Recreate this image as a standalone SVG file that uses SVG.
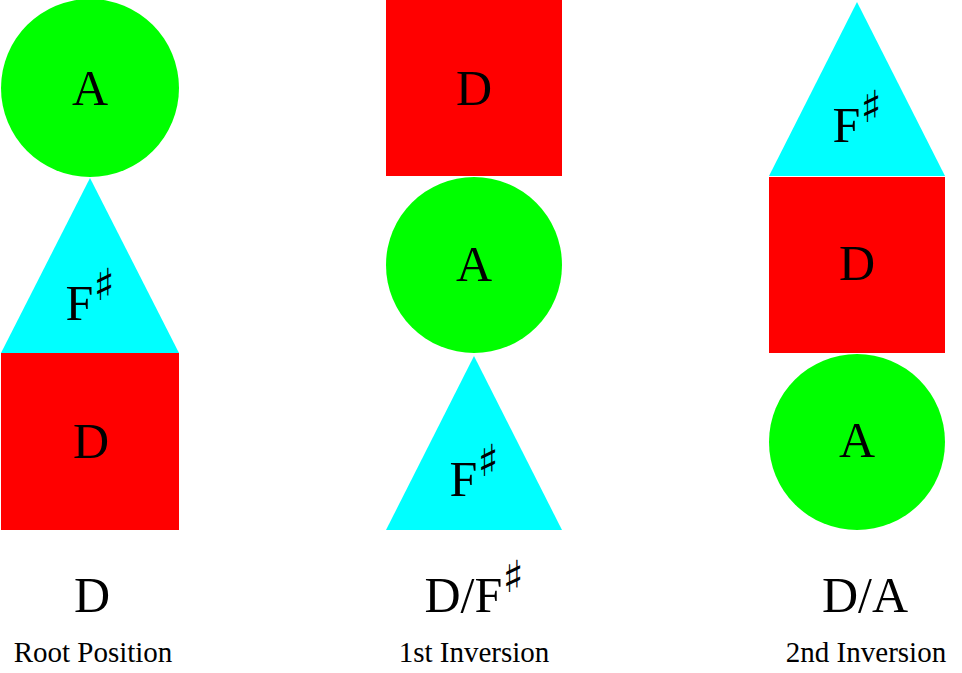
<svg xmlns="http://www.w3.org/2000/svg" width="962" height="673" viewBox="0 0 962 673">
<style>
.c{fill:#00ff00}.t{fill:#00ffff}.s{fill:#ff0000}
text{font-family:"Liberation Serif",serif;fill:#000;text-anchor:middle}
.n{font-size:50px}.l{font-size:29px}
.sh{font-family:"DejaVu Sans",sans-serif;font-size:44px}
</style>
<rect width="962" height="673" fill="#fff"/>
<g id="root">
<g id="root-A"><circle class="c" cx="90" cy="88" r="89"/><text class="n" x="90" y="105">A</text></g>
<g id="root-Fs"><polygon class="t" points="90,178 1,353 179,353"/><text class="n" x="90" y="320">F<tspan class="sh" dy="-20">♯</tspan></text></g>
<g id="root-D"><rect class="s" x="1" y="353" width="178" height="177"/><text class="n" x="91" y="458">D</text></g>
<text class="n" x="92" y="612">D</text>
<text class="l" x="93" y="662">Root Position</text>
</g>
<g id="first">
<g id="first-D"><rect class="s" x="386" y="0" width="176" height="176"/><text class="n" x="474" y="105">D</text></g>
<g id="first-A"><circle class="c" cx="474" cy="265" r="88"/><text class="n" x="474" y="281">A</text></g>
<g id="first-Fs"><polygon class="t" points="474,356 386,530 562,530"/><text class="n" x="474" y="496">F<tspan class="sh" dy="-20">♯</tspan></text></g>
<text class="n" x="474" y="612">D/F<tspan class="sh" dy="-20">♯</tspan></text>
<text class="l" x="474" y="662">1st Inversion</text>
</g>
<g id="second">
<g id="second-Fs"><polygon class="t" points="857,2 769,176 945,176"/><text class="n" x="857" y="142">F<tspan class="sh" dy="-20">♯</tspan></text></g>
<g id="second-D"><rect class="s" x="769" y="177" width="176" height="176"/><text class="n" x="857" y="280">D</text></g>
<g id="second-A"><circle class="c" cx="857" cy="442" r="88"/><text class="n" x="857" y="457">A</text></g>
<text class="n" x="865" y="612">D/A</text>
<text class="l" x="866" y="662">2nd Inversion</text>
</g>
<g id="connectors"/>
</svg>
